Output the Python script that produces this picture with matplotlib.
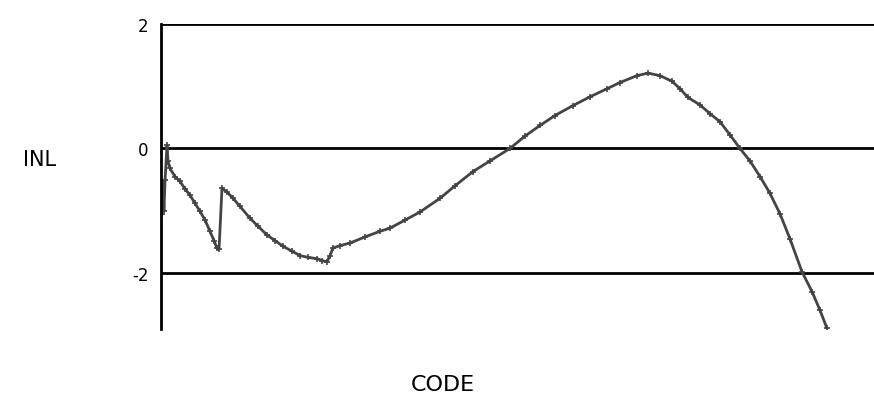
import matplotlib
matplotlib.use("Agg")
import matplotlib.pyplot as plt

# Codes (x) and INL values (LSB)
code = [6, 12, 18, 25, 37, 43, 55, 86, 117, 148, 178, 209, 240, 271, 301, 326,
        344, 357, 375, 406, 443, 486, 547, 597, 652, 701, 750, 806, 855, 904,
        959, 990, 1021, 1039, 1058, 1101, 1162, 1255, 1347, 1408, 1501, 1593,
        1716, 1808, 1919, 2023, 2146, 2239, 2331, 2423, 2534, 2638, 2743, 2823,
        2927, 2995, 3069, 3143, 3192, 3241, 3315, 3376, 3438, 3499, 3561, 3622,
        3684, 3745, 3807, 3868, 3942, 4004, 4053, 4096]
inl = [-1.05, -0.55, -1.0, -0.5, 0.05, -0.2, -0.32, -0.45, -0.53, -0.65, -0.75,
       -0.88, -1.01, -1.15, -1.33, -1.48, -1.6, -1.62, -0.64, -0.7, -0.8, -0.93,
       -1.12, -1.25, -1.39, -1.48, -1.57, -1.65, -1.72, -1.75, -1.77, -1.8,
       -1.82, -1.72, -1.6, -1.56, -1.52, -1.42, -1.33, -1.28, -1.15, -1.02,
       -0.8, -0.6, -0.37, -0.2, 0.0, 0.2, 0.37, 0.53, 0.69, 0.83, 0.96, 1.06,
       1.17, 1.21, 1.17, 1.08, 0.96, 0.82, 0.7, 0.56, 0.43, 0.22, 0.0, -0.2,
       -0.45, -0.72, -1.05, -1.45, -1.98, -2.3, -2.6, -2.89]

yticks = [2, 0, -2]
ytick_labels = ["2", "0", "-2"]

fig = plt.figure(figsize=(8.74, 4.14), dpi=100)
ax = fig.add_axes([161/874, 1 - 330/414, 1 - 161/874, (330 - 25)/414])

ax.plot(code, inl, color="#444444", lw=2.0, marker="+", ms=4, mew=1.2)

for y in yticks:
    ax.axhline(y, color="black", lw=2, zorder=1)

ax.set_xlim(0, 4385)
ax.set_ylim(-2.9, 2)
ax.set_yticks(yticks)
ax.set_yticklabels(ytick_labels, fontsize=12, family="DejaVu Sans")
ax.tick_params(axis="y", length=0, pad=9)
ax.set_xticks([])
for s in ["top", "right", "bottom"]:
    ax.spines[s].set_visible(False)
ax.spines["left"].set_linewidth(2)

fig.text(40/874, 1 - 160/414, "INL", fontsize=15, ha="center", va="center",
         family="DejaVu Sans")
fig.text(443/874, 1 - 385/414, "CODE", fontsize=16, ha="center", va="center",
         family="DejaVu Sans")

fig.savefig("out.png", dpi=100, facecolor="white")
